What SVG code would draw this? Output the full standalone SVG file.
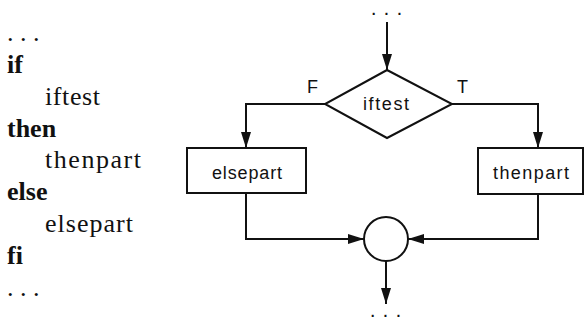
<svg xmlns="http://www.w3.org/2000/svg" width="586" height="321" viewBox="0 0 586 321">
  <style>
    .code { font-family: "Liberation Serif", "Times New Roman", serif; font-size: 26px; fill: #111; }
    .kw { font-weight: bold; }
    .lbl { font-family: "Liberation Sans", Arial, sans-serif; font-size: 18px; fill: #111; }
    .dots { font-family: "Liberation Sans", Arial, sans-serif; font-size: 14px; font-weight: bold; fill: #111; }
    .shape { fill: #fff; stroke: #111; stroke-width: 2; }
    .wire { fill: none; stroke: #111; stroke-width: 2; }
  </style>
  <defs>
    <marker id="arrow" viewBox="0 0 16 12" refX="16" refY="6" markerWidth="16" markerHeight="12" markerUnits="userSpaceOnUse" orient="auto">
      <path d="M0,1 L16,6 L0,11 Z" fill="#111"/>
    </marker>
  </defs>
  <rect width="586" height="321" fill="#fff"/>

  <!-- program text -->
  <g id="code">
    <text class="code" x="7" y="41">. . .</text>
    <text class="code kw" x="7" y="73">if</text>
    <text class="code" x="45" y="105" textLength="55">iftest</text>
    <text class="code kw" x="7" y="137">then</text>
    <text class="code" x="45" y="168" textLength="96">thenpart</text>
    <text class="code kw" x="7" y="200">else</text>
    <text class="code" x="45" y="232" textLength="88">elsepart</text>
    <text class="code kw" x="7" y="264">fi</text>
    <text class="code" x="7" y="296">. . .</text>
  </g>

  <!-- connectors -->
  <g id="connectors">
    <path class="wire" d="M387,22 L387,70" marker-end="url(#arrow)"/>
    <path class="wire" d="M325,104 L246,104 L246,148" marker-end="url(#arrow)"/>
    <path class="wire" d="M452,104 L538,104 L538,148" marker-end="url(#arrow)"/>
    <path class="wire" d="M246,193 L246,239 L364,239" marker-end="url(#arrow)"/>
    <path class="wire" d="M538,194 L538,239 L408,239" marker-end="url(#arrow)"/>
    <path class="wire" d="M386,261 L386,304" marker-end="url(#arrow)"/>
    <text class="lbl" x="307" y="93">F</text>
    <text class="lbl" x="457" y="93">T</text>
  </g>

  <g id="entry">
    <text class="dots" x="391" y="15" text-anchor="middle" letter-spacing="9">...</text>
  </g>

  <g id="iftest">
    <path class="shape" d="M387,70 L452,104 L387,138 L325,104 Z"/>
    <text class="lbl" x="386" y="110" text-anchor="middle" textLength="46">iftest</text>
  </g>

  <g id="elsepart">
    <rect class="shape" x="187" y="148" width="119" height="45"/>
    <text class="lbl" x="247" y="179" text-anchor="middle" textLength="70">elsepart</text>
  </g>

  <g id="thenpart">
    <rect class="shape" x="478" y="148" width="105" height="46"/>
    <text class="lbl" x="531" y="179" text-anchor="middle" textLength="76">thenpart</text>
  </g>

  <g id="join">
    <circle class="shape" cx="386" cy="239" r="22"/>
  </g>

  <g id="exit">
    <text class="dots" x="390" y="317" text-anchor="middle" letter-spacing="9">...</text>
  </g>
</svg>
